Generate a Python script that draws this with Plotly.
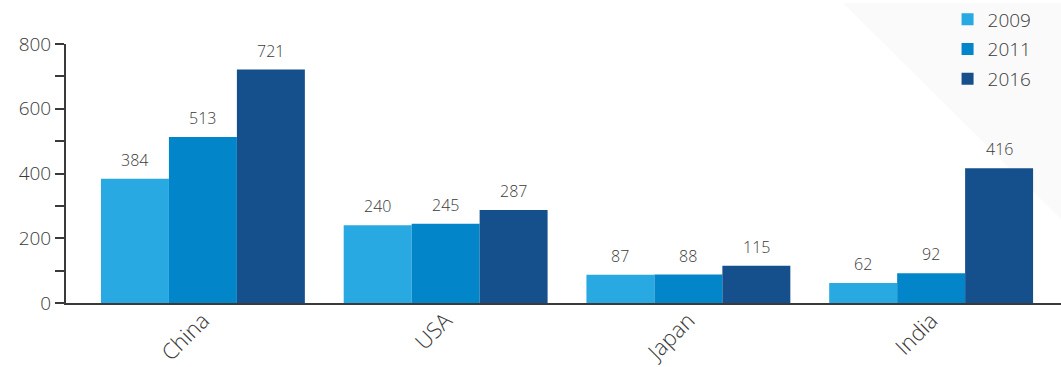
import plotly.graph_objects as go

categories = ["China", "USA", "Japan", "India"]
years = ["2009", "2011", "2016"]
values_2009 = [384, 240, 87, 62]
values_2011 = [513, 245, 88, 92]
values_2016 = [721, 287, 115, 416]
series = [values_2009, values_2011, values_2016]
colors = ["#29a9e1", "#0286c9", "#154f8c"]
y_ticks = [0, 200, 400, 600, 800]

FONT = "'Open Sans', Lato, sans-serif"
TEXT = "#3a3a3a"
BARGAP = 0.16

fig = go.Figure()
for name, vals, col in zip(years, series, colors):
    fig.add_trace(go.Bar(x=categories, y=vals, name=name, legendgroup=name,
                         marker=dict(color=col, line=dict(width=0))))

# value labels above each bar, centred on its slot within the group
slot = (1 - BARGAP) / len(series)
annotations = []
for j, vals in enumerate(series):
    offset = (j - (len(series) - 1) / 2) * slot
    for i, v in enumerate(vals):
        annotations.append(dict(
            x=i + offset, y=v, xref="x", yref="y", text=str(v), showarrow=False,
            yanchor="bottom", yshift=6, font=dict(family=FONT, size=16, color=TEXT, weight=300)))

fig.update_layout(
    width=1061, height=367,
    margin=dict(l=66, r=0, t=41, b=64),
    paper_bgcolor="white", plot_bgcolor="rgba(0,0,0,0)",
    barmode="group", bargap=BARGAP, bargroupgap=0,
    font=dict(family=FONT, size=18, color=TEXT, weight=300),
    annotations=annotations,
    showlegend=True,
    legend=dict(x=0.886, xanchor="left", y=1.168, yanchor="top",
                font=dict(family=FONT, size=19, color=TEXT, weight=300),
                bgcolor="rgba(0,0,0,0)", tracegroupgap=2, traceorder="grouped"),
    shapes=[dict(type="path", xref="paper", yref="paper", layer="below",
                 path="M 0.781 1.157 L 1 1.157 L 1 0.324 Z",
                 fillcolor="#fafafa", line=dict(width=0))],
)
fig.update_xaxes(
    range=[-0.564, 3.535], showgrid=False, zeroline=False, automargin=False,
    showline=True, linecolor="#3a3a3a", linewidth=2,
    ticks="", tickangle=-45, ticklabelstandoff=-6,
    tickfont=dict(family=FONT, size=22, color=TEXT, weight=300),
)
fig.update_yaxes(
    range=[0, 800], tickvals=y_ticks, showgrid=False, zeroline=False, automargin=False,
    showline=True, linecolor="#3a3a3a", linewidth=2,
    ticks="outside", ticklen=9, tickwidth=1.5, tickcolor="#3a3a3a",
    minor=dict(dtick=100, tick0=0, ticks="outside", ticklen=9, tickwidth=1.5, tickcolor="#3a3a3a"),
    tickfont=dict(family=FONT, size=19, color=TEXT, weight=300), ticksuffix=" ",
)

fig.write_html("out.html")
